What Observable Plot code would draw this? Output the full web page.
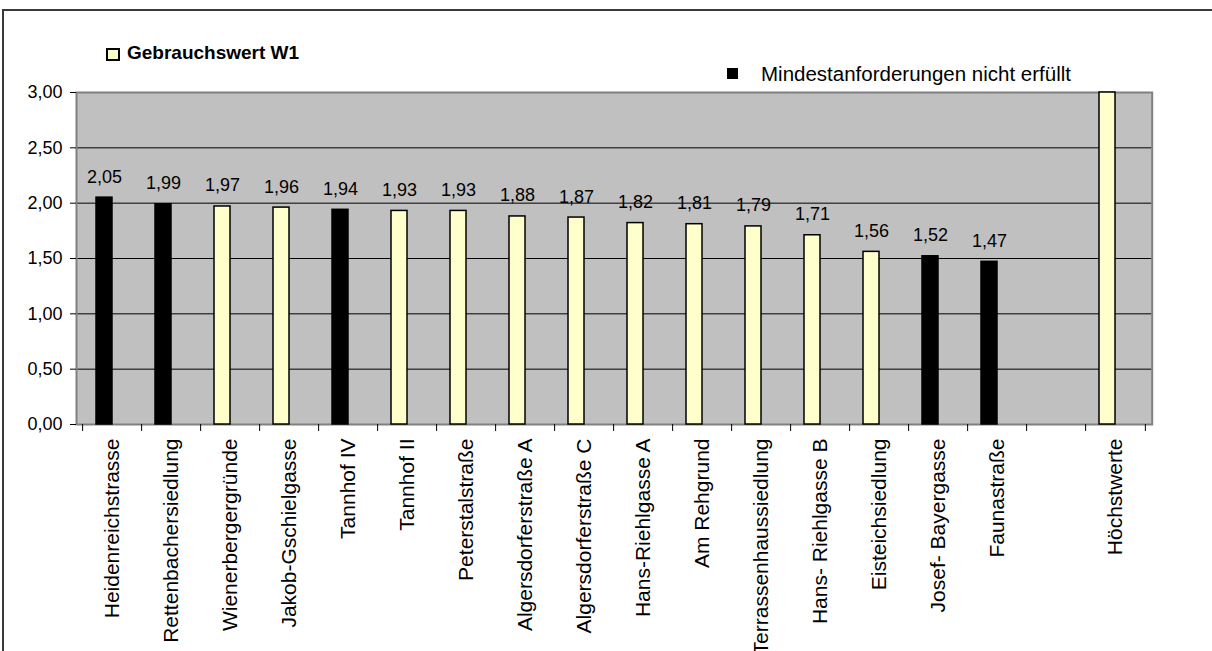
<!DOCTYPE html>
<html><head><meta charset="utf-8">
<script src="https://cdn.jsdelivr.net/npm/d3@7"></script>
<script src="https://cdn.jsdelivr.net/npm/@observablehq/plot@0.6"></script>
<style>
body{margin:0;background:#fff;font-family:"Liberation Sans",Arial,sans-serif;}
#wrap{position:relative;width:1212px;height:651px;overflow:hidden;}
#border{position:absolute;left:2px;top:9px;width:1300px;height:800px;border:2px solid #3a3a3a;box-sizing:border-box;pointer-events:none;}
.leg{position:absolute;white-space:nowrap;color:#000;}
.sw{position:absolute;box-sizing:border-box;}
#chart{position:absolute;left:0;top:0;}
</style></head>
<body>
<div id="wrap">
  <div id="chart"></div>
  <div id="border"></div>
  <div class="sw" style="left:106px;top:48px;width:14px;height:13px;background:#ffffcc;border:2px solid #000;"></div>
  <div class="leg" id="t1" style="left:127px;top:42px;font-size:19px;font-weight:bold;">Gebrauchswert W1</div>
  <div class="sw" style="left:727px;top:68px;width:11px;height:11px;background:#000;"></div>
  <div class="leg" id="t2" style="left:761px;top:62px;font-size:20.5px;">Mindestanforderungen nicht erfüllt</div>
</div>
<script>
// Categories (in chart order), values and status
const categories = ["Heidenreichstrasse", "Rettenbachersiedlung", "Wienerbergergründe", "Jakob-Gschielgasse",
  "Tannhof IV", "Tannhof II", "Peterstalstraße", "Algersdorferstraße A", "Algersdorferstraße C",
  "Hans-Riehlgasse A", "Am Rehgrund", "Terrassenhaussiedlung", "Hans- Riehlgasse B", "Eisteichsiedlung",
  "Josef- Bayergasse", "Faunastraße", "Höchstwerte"];
const values = [2.05, 1.99, 1.97, 1.96, 1.94, 1.93, 1.93, 1.88, 1.87, 1.82, 1.81, 1.79, 1.71, 1.56, 1.52, 1.47, 3.00];
const notMet = [true, true, false, false, true, false, false, false, false, false, false, false, false, false, true, true, false];
const labelled = [true, true, true, true, true, true, true, true, true, true, true, true, true, true, true, true, false];
const gapSlot = " "; // empty slot before "Höchstwerte"
const yTicks = [0, 0.5, 1, 1.5, 2, 2.5, 3];

const data = categories.map((c, i) => ({cat: c, v: values[i], black: notMet[i], lab: labelled[i]}));
const domain = [...categories.slice(0, -1), gapSlot, categories[categories.length - 1]];
const fmt = d => d.toFixed(2).replace(".", ",");

const W = 1212, H = 651, mL = 76, mR = 60.3, mT = 92, mB = 227;
const half = (W - mL - mR) / domain.length / 2;

const chart = Plot.plot({
  width: W, height: H,
  marginLeft: mL, marginRight: mR, marginTop: mT, marginBottom: mB,
  style: {fontFamily: "'Liberation Sans', Arial, sans-serif", color: "#000", background: "transparent"},
  x: {domain, paddingInner: 0.732, paddingOuter: 0.366, axis: null, label: null},
  y: {domain: [0, 3], axis: null, label: null},
  marks: [
    Plot.frame({fill: "#c0c0c0", stroke: null}),
    Plot.ruleY(yTicks.filter(v => v > 0 && v < 3), {stroke: "#000", strokeWidth: 1}),
    Plot.frame({stroke: "#808080", strokeWidth: 2}),
    Plot.axisY({ticks: yTicks, tickFormat: fmt, tickSize: 6, tickPadding: 8, fontSize: 18, stroke: "#000", label: null}),
    Plot.axisX({tickSize: 0, tickPadding: 14, tickRotate: -90, fontSize: 21, label: null}),
    Plot.axisX({text: null, tickSize: 7, dx: -half, stroke: "#000", label: null}),
    Plot.axisX({ticks: [categories[categories.length - 1]], text: null, tickSize: 7, dx: half, stroke: "#000", label: null}),
    Plot.barY(data, {x: "cat", y: "v", fill: d => d.black ? "#000" : "#ffffcc", stroke: "#000", strokeWidth: 1.5, dx: -8}),
    Plot.text(data.filter(d => d.lab), {x: "cat", y: "v", text: d => fmt(d.v), dx: -8, dy: -15, lineAnchor: "bottom", fontSize: 18, fill: "#000"})
  ]
});
document.getElementById("chart").appendChild(chart);
</script>
</body></html>
